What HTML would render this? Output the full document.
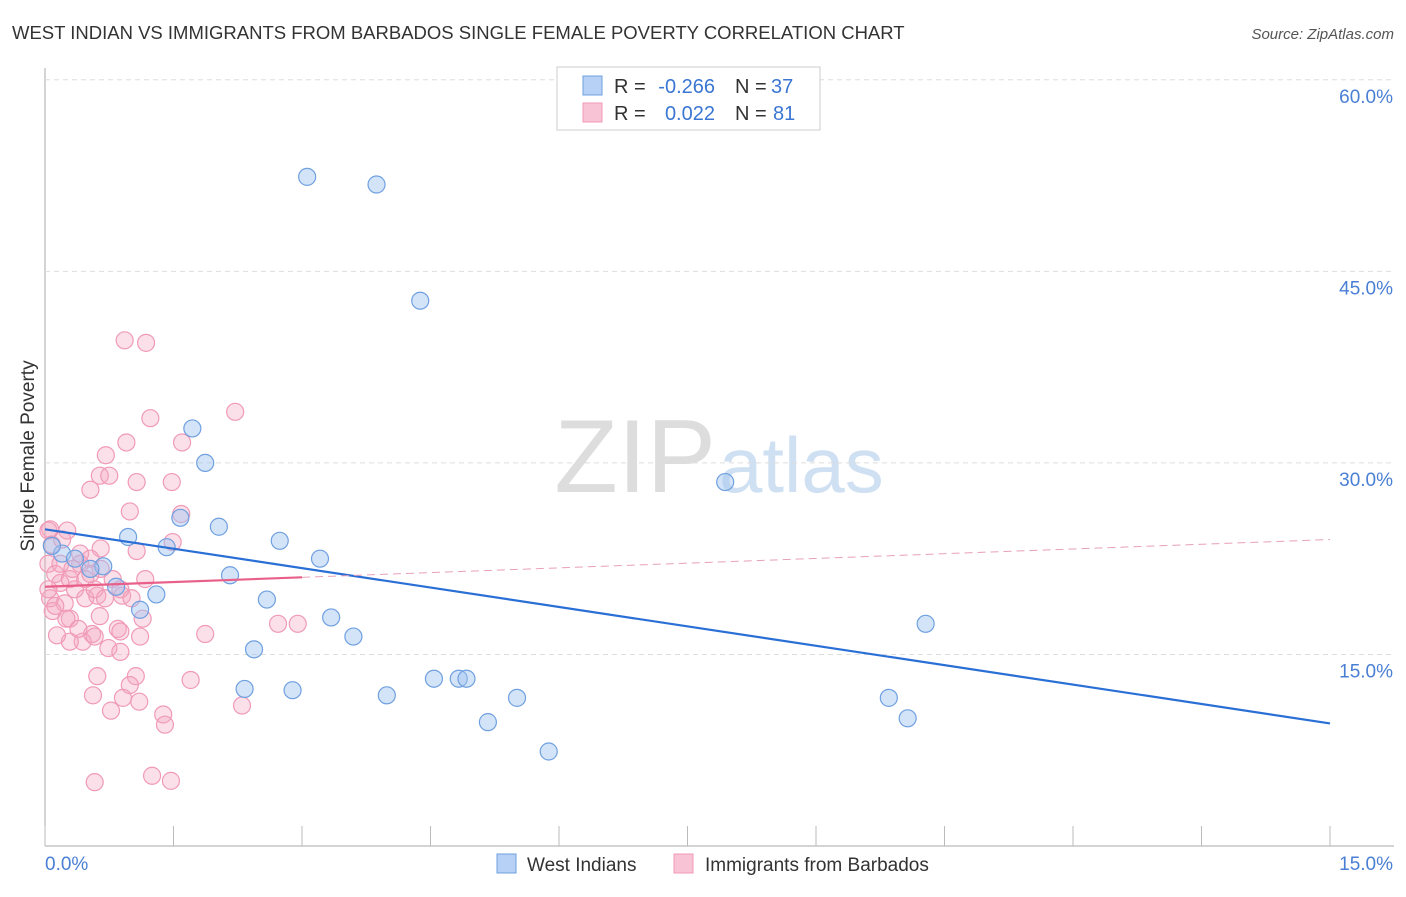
<!DOCTYPE html>
<html><head><meta charset="utf-8"><style>
body{margin:0;background:#fff;font-family:"Liberation Sans",sans-serif;}
svg text{font-family:"Liberation Sans",sans-serif;}
</style></head><body>
<svg id="chart" width="1406" height="892" xmlns="http://www.w3.org/2000/svg">
<text x="12" y="39" font-size="18.5" fill="#333">WEST INDIAN VS IMMIGRANTS FROM BARBADOS SINGLE FEMALE POVERTY CORRELATION CHART</text>
<text x="1394" y="39" font-size="15" fill="#555" font-style="italic" text-anchor="end">Source: ZipAtlas.com</text>
<text x="34" y="456" font-size="19" fill="#333" transform="rotate(-90 34 456)" text-anchor="middle">Single Female Poverty</text>
<text x="716" y="492" font-size="104" fill="#ddd" text-anchor="end" font-family="Liberation Serif">ZIP</text>
<text x="719" y="492" font-size="78" fill="#cfe0f3">atlas</text>
<g id="grid"></g><g id="pts"></g><g id="lines"></g>
<g>
<rect x="557" y="67" width="263" height="63" fill="#fff" stroke="#ccc"/>
<rect x="583" y="76" width="19" height="19" fill="#b6d1f5" stroke="#6fa0e0"/>
<rect x="583" y="103" width="19" height="19" fill="#f8c4d5" stroke="#f09ab8"/>
<text x="614" y="93" font-size="20" fill="#333">R =</text>
<text x="715" y="93" font-size="20" fill="#3a76d2" text-anchor="end">-0.266</text>
<text x="735" y="93" font-size="20" fill="#333">N =</text>
<text x="771" y="93" font-size="20" fill="#3a76d2">37</text>
<text x="614" y="120" font-size="20" fill="#333">R =</text>
<text x="715" y="120" font-size="20" fill="#3a76d2" text-anchor="end">0.022</text>
<text x="735" y="120" font-size="20" fill="#333">N =</text>
<text x="773" y="120" font-size="20" fill="#3a76d2">81</text>
</g>
<g>
<rect x="497" y="854" width="19" height="19" fill="#b6d1f5" stroke="#6fa0e0"/>
<text x="527" y="871" font-size="19" fill="#333">West Indians</text>
<rect x="674" y="854" width="19" height="19" fill="#f8c4d5" stroke="#f09ab8"/>
<text x="705" y="871" font-size="19" fill="#333">Immigrants from Barbados</text>
</g>
</svg>
<script>
const xTicks=[0,15];
const yTicks=[15,30,45,60];
const blueX=[3.06,3.87,4.38,1.72,1.87,7.94,1.58,2.03,0.97,2.74,1.42,0.2,0.35,3.21,0.68,0.53,2.16,0.83,1.3,2.59,1.11,3.34,10.28,3.6,2.44,2.33,2.89,3.99,4.54,4.83,4.92,9.85,5.51,5.17,10.07,5.88,0.08];
const blueY=[52.4,51.8,42.7,32.7,30.0,28.5,25.7,25.0,24.2,23.9,23.4,22.9,22.5,22.5,21.9,21.7,21.2,20.3,19.7,19.3,18.5,17.9,17.4,16.4,15.4,12.3,12.2,11.8,13.1,13.1,13.1,11.6,11.6,9.7,10.0,7.4,23.5];
const pinkX=[0.93,1.18,2.22,1.23,0.95,1.6,0.71,0.64,0.75,1.07,1.48,0.53,0.99,1.59,0.26,0.06,0.65,1.07,1.49,0.41,1.17,0.9,0.61,1.14,2.72,2.95,1.87,0.85,0.88,0.55,0.44,0.29,0.14,0.74,0.88,0.61,1.06,0.99,1.7,0.56,0.91,2.3,0.77,1.1,1.38,1.4,0.58,1.25,1.47,0.04,0.08,0.04,0.12,0.18,0.06,0.29,0.35,0.47,0.23,0.09,0.29,0.41,0.53,0.65,0.79,0.88,1.01,0.18,0.32,0.47,0.58,0.7,0.04,0.12,0.64,0.25,0.39,0.53,1.11,0.58,0.2];
const pinkY=[39.6,39.4,34.0,33.5,31.6,31.6,30.6,29.0,29.0,28.5,28.5,27.9,26.2,26.0,24.7,24.8,23.3,23.1,23.8,22.9,20.9,19.6,19.6,17.8,17.4,17.4,16.6,17.0,16.8,16.6,16.0,16.0,16.5,15.5,15.2,13.3,13.3,12.6,13.0,11.8,11.6,11.0,10.6,11.3,10.3,9.5,5.0,5.5,5.1,24.7,23.6,22.1,21.3,20.6,19.4,20.9,20.1,19.4,19.0,18.4,17.8,22.1,22.5,21.7,20.9,20.1,19.4,22.1,21.7,20.9,20.1,19.4,20.1,18.8,18.0,17.8,17.0,21.3,16.4,16.4,24.0];
const blueFit=[24.8,9.6];
const pinkFit=[20.3,24.0];
const pinkSolidEnd=3.0;
const X=v=>45+v/15*1285, Y=v=>846-v*12.77;
const NS="http://www.w3.org/2000/svg";
function mk(t,a,p){const e=document.createElementNS(NS,t);for(const k in a)e.setAttribute(k,a[k]);p.appendChild(e);return e;}
const g=document.getElementById('grid');
const ax=mk('line',{x1:45,y1:68,x2:45,y2:846,stroke:'#aaa'},g);


const bx=mk('line',{x1:45,y1:846,x2:1394,y2:846,stroke:'#aaa'},g);


for(let i=0;i<=10;i++){const t=mk('line',{x1:X(i*1.5),y1:826,x2:X(i*1.5),y2:846,stroke:'#bbb'},g);

}
yTicks.forEach(v=>{const l=mk('line',{x1:45,y1:Y(v),x2:1394,y2:Y(v),stroke:'#ddd','stroke-dasharray':'5,4'},g);


const t=mk('text',{x:1393,y:Y(v)+23,'font-size':19,fill:'#4a7fd4','text-anchor':'end'},g);t.textContent=v.toFixed(1)+'%';

});
xTicks.forEach((v,i)=>{const t=mk('text',{x:i?1393:45,y:870,'font-size':19,fill:'#4a7fd4','text-anchor':i?'end':'start'},g);t.textContent=v.toFixed(1)+'%';

});
const p=document.getElementById('pts');
pinkX.forEach((x,i)=>{const c=mk('circle',{cx:X(x),cy:Y(pinkY[i]),r:8.5,fill:'rgba(244,165,192,0.35)',stroke:'#f09ab8','stroke-width':1.2},p);

});
blueX.forEach((x,i)=>{const c=mk('circle',{cx:X(x),cy:Y(blueY[i]),r:8.5,fill:'rgba(160,196,240,0.45)',stroke:'#6fa0e0','stroke-width':1.2},p);

});
const L=document.getElementById('lines');
const bl=mk('line',{x1:X(0),y1:Y(blueFit[0]),x2:X(15),y2:Y(blueFit[1]),stroke:'#2a6fd6','stroke-width':2.2},L);


const pf=v=>pinkFit[0]+(pinkFit[1]-pinkFit[0])*v/15;
const ps=mk('line',{x1:X(0),y1:Y(pf(0)),x2:X(pinkSolidEnd),y2:Y(pf(pinkSolidEnd)),stroke:'#e8608a','stroke-width':2.2},L);


const pd=mk('line',{x1:X(pinkSolidEnd),y1:Y(pf(pinkSolidEnd)),x2:X(15),y2:Y(pf(15)),stroke:'#e8a0b8','stroke-width':1,'stroke-dasharray':'8,5'},L);


</script>
</body></html>
